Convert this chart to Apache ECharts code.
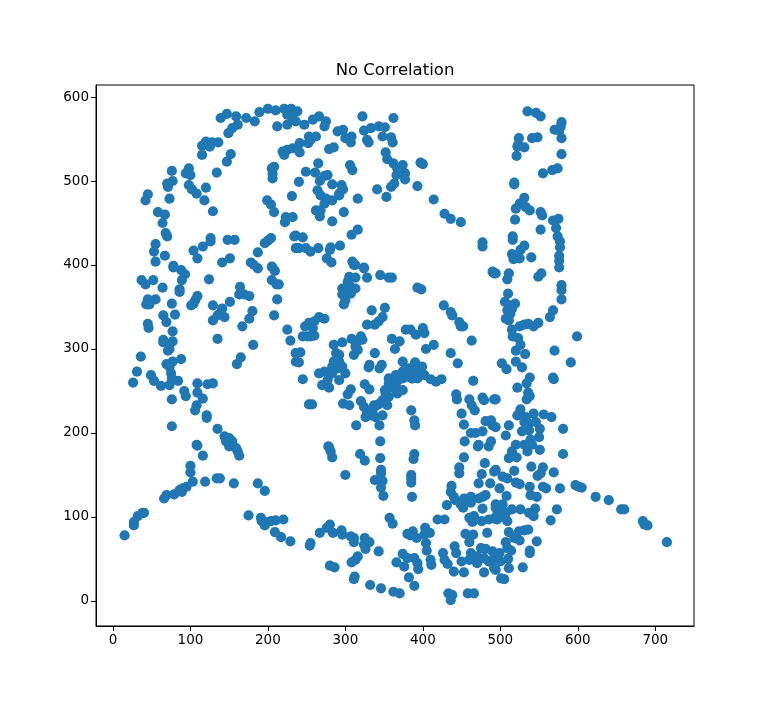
<!DOCTYPE html>
<html>
<head>
<meta charset="utf-8">
<style>html,body{margin:0;padding:0;background:#fff}#c{width:771px;height:702px}</style>
<script src="https://cdn.jsdelivr.net/npm/echarts@6/dist/echarts.min.js"></script>
</head>
<body>
<div id="c"></div>
<script>
const xTicks = [0,100,200,300,400,500,600,700];
const yTicks = [0,100,200,300,400,500,600];
const pointsTopLeft = [[139,575],[147,580],[159,577],[172,575],[183,571],[189,582],[200,586],[210,584],[221,586],[230,586],[225,579],[232,575],[225,567],[212,565],[161,567],[154,563],[149,557],[136,546],[128,546],[120,547],[115,542],[125,541],[115,531],[152,532],[147,523],[134,510],[98,515],[94,509],[100,507],[76,512],[77,500],[70,497],[71,493],[45,484],[42,477],[73,479],[98,495],[102,490],[108,485],[120,492],[118,477],[129,464],[58,463],[67,460],[64,450],[68,438],[70,434],[55,425],[53,416],[67,411],[55,404],[104,417],[109,408],[116,422],[126,432],[126,428],[148,430],[157,430],[151,408],[141,403],[78,399],[178,403],[187,415],[196,426],[204,432],[200,429],[205,398],[208,517],[205,515],[206,509],[206,503],[219,535],[225,537],[232,539],[221,531],[231,482],[199,477],[204,472],[208,463],[223,457],[222,451],[232,457],[234,434],[236,420]];
const pointsTopMiddle = [[238,583],[236,571],[247,567],[258,573],[266,577],[275,571],[273,565],[290,559],[297,561],[300,551],[307,546],[308,553],[322,577],[362,575],[324,560],[333,563],[343,565],[351,564],[348,553],[359,552],[361,546],[328,549],[330,546],[352,534],[354,526],[362,521],[374,519],[367,515],[377,509],[377,502],[366,507],[363,497],[359,493],[393,494],[397,522],[400,520],[414,478],[428,461],[436,455],[449,451],[477,427],[477,422],[341,490],[353,481],[316,479],[298,463],[283,452],[316,442],[308,436],[293,423],[281,421],[280,418],[265,420],[255,416],[249,420],[240,420],[245,433],[236,435],[276,408],[282,403],[309,404],[313,400],[324,397],[241,545],[238,539],[241,534],[253,553],[262,553],[255,549],[252,545],[279,538],[285,540],[265,521],[249,511],[261,510],[277,507],[273,506],[267,500],[240,499],[283,496],[295,495],[297,490],[292,485],[264,489],[268,483],[275,479],[283,477],[292,483],[273,473],[262,465],[268,465],[267,458],[306,519],[309,513]];
const pointsTopRight = [[535,583],[546,581],[552,577],[579,570],[578,565],[570,561],[576,560],[579,551],[548,552],[541,551],[524,551],[523,543],[531,540],[522,541],[521,530],[579,532],[574,515],[567,513],[555,509],[518,498],[518,496],[531,480],[525,473],[520,467],[533,469],[538,465],[552,463],[554,459],[519,454],[575,455],[568,453],[572,444],[552,442],[574,434],[577,428],[577,421],[516,434],[516,430],[531,423],[526,418],[515,413],[525,408],[517,407],[540,409],[576,411],[576,405]];
const pointsMiddleLeft = [[78,397],[88,394],[93,389],[89,382],[86,371],[86,368],[124,383],[37,382],[42,377],[52,382],[64,373],[45,359],[55,359],[43,353],[47,353],[76,354],[109,363],[106,358],[101,352],[104,354],[164,374],[163,365],[169,365],[176,363],[129,352],[141,348],[151,356],[135,340],[144,338],[129,334],[138,342],[180,345],[176,336],[167,327],[65,340],[69,332],[80,341],[45,330],[46,325],[77,321],[65,311],[65,308],[77,309],[73,300],[71,298],[135,312],[181,305],[165,290],[160,282],[225,323],[229,310],[236,295],[236,285],[205,382],[211,377],[214,377],[212,359],[208,340],[187,396],[182,400],[206,397],[209,393],[36,291],[31,273],[26,260],[49,269],[53,262],[62,256],[73,257],[77,285],[88,288],[69,282],[73,279],[75,271],[76,265],[84,262],[92,250],[94,244],[76,240],[109,259],[122,258],[129,259],[109,248],[116,241],[108,233],[106,227],[121,221],[121,218],[76,208],[135,205],[144,196],[146,190],[154,190],[150,194],[108,186]];
const pointsCentre = [[305,386],[313,385],[303,380],[296,372],[309,370],[313,372],[300,372],[305,376],[307,366],[296,365],[300,364],[300,358],[298,353],[324,396],[328,385],[345,388],[356,385],[360,385],[393,373],[398,371],[311,400],[334,346],[351,349],[348,338],[343,333],[338,329],[328,329],[266,338],[273,336],[260,333],[253,331],[248,327],[258,325],[260,316],[255,315],[245,315],[251,315],[427,352],[436,344],[438,340],[447,332],[449,327],[452,327],[463,310],[436,295],[445,283],[465,262],[490,392],[492,390],[378,323],[384,323],[391,317],[400,325],[402,319],[360,312],[370,309],[364,300],[404,300],[414,305],[308,312],[320,315],[296,308],[285,305],[322,311],[316,309],[313,303],[316,299],[311,293],[338,295],[288,295],[292,293],[242,296],[236,295],[240,284],[285,285],[292,285],[283,279],[296,279],[290,277],[300,271],[283,271],[266,271],[273,273],[279,269],[292,263],[277,263],[270,257],[279,254],[245,264],[307,252],[303,246],[297,235],[305,233],[253,234],[257,234],[330,278],[331,281],[344,277],[347,281],[325,258],[331,252],[374,285],[390,284],[399,279],[356,265],[365,269],[374,273],[382,277],[391,273],[367,263],[374,265],[380,267],[386,265],[393,265],[402,269],[365,257],[356,259],[374,251],[363,253],[367,247],[352,247],[356,243],[348,239],[354,233],[344,235],[337,233],[320,238],[324,231],[328,225],[335,227],[341,233],[348,221],[326,219],[333,221],[339,219],[344,209],[314,209],[385,227],[389,215],[390,209],[345,190],[278,184],[410,264],[417,261],[424,264],[443,246],[444,240],[460,240],[463,233],[467,227],[477,242],[479,239],[492,240],[450,223],[453,210],[481,214],[488,215],[490,209],[462,200],[468,200],[477,202],[454,190],[472,186],[488,190],[351,251],[364,260],[373,267],[382,273],[357,254],[368,263],[377,275],[386,265]];
const pointsMiddleRight = [[494,390],[511,390],[509,383],[549,386],[553,390],[576,397],[579,376],[579,370],[579,359],[568,346],[564,338],[510,366],[506,356],[519,354],[511,352],[509,346],[515,348],[513,342],[507,336],[511,334],[515,323],[525,327],[531,329],[536,330],[543,327],[549,331],[516,315],[523,313],[526,305],[520,298],[532,294],[599,315],[570,298],[591,284],[502,283],[508,276],[520,285],[528,278],[538,266],[534,259],[522,254],[569,264],[568,266],[536,248],[538,244],[534,240],[494,240],[526,228],[522,221],[533,219],[543,223],[556,222],[566,219],[531,213],[537,211],[546,213],[511,209],[494,207],[551,205],[528,202],[537,203],[581,205],[507,197],[550,195],[539,192],[520,186],[531,186],[541,186]];
const pointsBottomLeft = [[109,185],[116,173],[150,184],[159,182],[161,178],[163,173],[100,161],[100,153],[15,78],[27,94],[27,90],[32,101],[40,105],[38,105],[66,122],[69,126],[79,127],[86,132],[90,134],[89,130],[95,136],[103,142],[119,142],[134,146],[138,146],[156,140],[187,140],[196,131],[175,102],[191,99],[192,95],[197,94],[196,90],[204,95],[210,96],[220,97],[209,82],[217,76],[229,71]];
const pointsBottomMiddle = [[279,183],[281,178],[283,171],[319,175],[325,167],[300,150],[345,170],[346,156],[346,152],[338,144],[348,143],[346,135],[349,125],[389,175],[388,169],[385,150],[385,146],[385,141],[386,124],[453,171],[471,184],[485,184],[480,164],[447,159],[447,152],[476,151],[492,154],[472,140],[487,140],[437,137],[436,130],[440,124],[442,120],[431,114],[449,115],[453,122],[462,124],[452,111],[462,117],[472,122],[481,126],[477,124],[477,110],[494,115],[357,99],[361,92],[419,97],[428,97],[460,99],[466,101],[464,94],[476,95],[485,97],[492,98],[280,91],[267,81],[276,87],[284,81],[295,84],[296,79],[307,77],[311,75],[311,70],[325,75],[331,70],[324,67],[326,62],[255,69],[254,66],[343,59],[380,80],[387,83],[384,78],[392,75],[403,87],[409,81],[402,79],[404,69],[405,60],[410,49],[411,43],[455,80],[465,79],[460,70],[483,81],[441,65],[443,57],[426,57],[428,49],[432,44],[450,47],[440,35],[453,34],[374,56],[366,46],[376,41],[380,51],[389,51],[393,45],[394,38],[382,28],[389,18],[316,53],[313,49],[308,46],[280,42],[286,40],[312,29],[311,26],[332,19],[346,15],[362,11],[370,9],[433,9],[438,7],[436,1],[458,9],[466,9],[475,63],[481,62],[490,59],[462,57],[470,53],[460,49],[479,51],[470,45],[485,47],[492,39],[479,34],[492,51]];
const pointsBottomRight = [[581,175],[551,180],[515,178],[511,170],[521,171],[535,178],[540,160],[555,159],[548,149],[552,152],[569,153],[518,155],[494,156],[503,148],[509,146],[520,141],[525,139],[499,134],[538,136],[555,136],[559,134],[577,134],[539,126],[547,124],[508,125],[597,138],[601,136],[605,135],[623,124],[640,120],[656,109],[660,109],[684,95],[686,91],[690,90],[715,70],[545,110],[573,109],[537,105],[543,101],[526,109],[515,109],[565,96],[494,111],[503,115],[500,109],[507,105],[496,103],[505,101],[509,95],[496,97],[511,82],[524,83],[531,84],[536,85],[525,72],[518,75],[507,70],[509,63],[547,71],[514,60],[538,60],[538,57],[499,57],[494,55],[510,50],[500,47],[494,47],[511,39],[529,40],[494,37],[501,27],[505,26]];

const allPoints = [].concat(pointsTopLeft, pointsTopMiddle, pointsTopRight, pointsMiddleLeft, pointsCentre, pointsMiddleRight, pointsBottomLeft, pointsBottomMiddle, pointsBottomRight);

const font = 'DejaVu Sans';
function axis(ticks, min, max) {
  return {
    type: 'value', min: min, max: max, scale: true,
    splitLine: {show: false},
    axisLine: {show: true, onZero: false, lineStyle: {color: '#000', width: 1}},
    axisTick: {show: true, length: 5, lineStyle: {color: '#000', width: 1}, customValues: ticks},
    axisLabel: {color: '#000', fontFamily: font, fontSize: 13.5, margin: 7, customValues: ticks}
  };
}
const chart = echarts.init(document.getElementById('c'), null, {renderer: 'canvas'});
chart.setOption({
  animation: false,
  backgroundColor: '#fff',
  title: {text: 'No Correlation', left: 390, top: 57, textAlign: 'center',
    textStyle: {color: '#000', fontFamily: font, fontSize: 16.5, fontWeight: 'normal'}},
  grid: {left: 96, right: 77, top: 85, bottom: 76, show: true, borderColor: '#000', borderWidth: 1, backgroundColor: 'transparent'},
  xAxis: axis(xTicks, -21.9, 750),
  yAxis: axis(yTicks, -29.8, 614.3),
  series: [{type: 'scatter', data: allPoints, symbol: 'circle', symbolSize: 10.2, itemStyle: {color: '#1f77b4', opacity: 1}, silent: true, large: false}]
});
</script>
</body>
</html>
